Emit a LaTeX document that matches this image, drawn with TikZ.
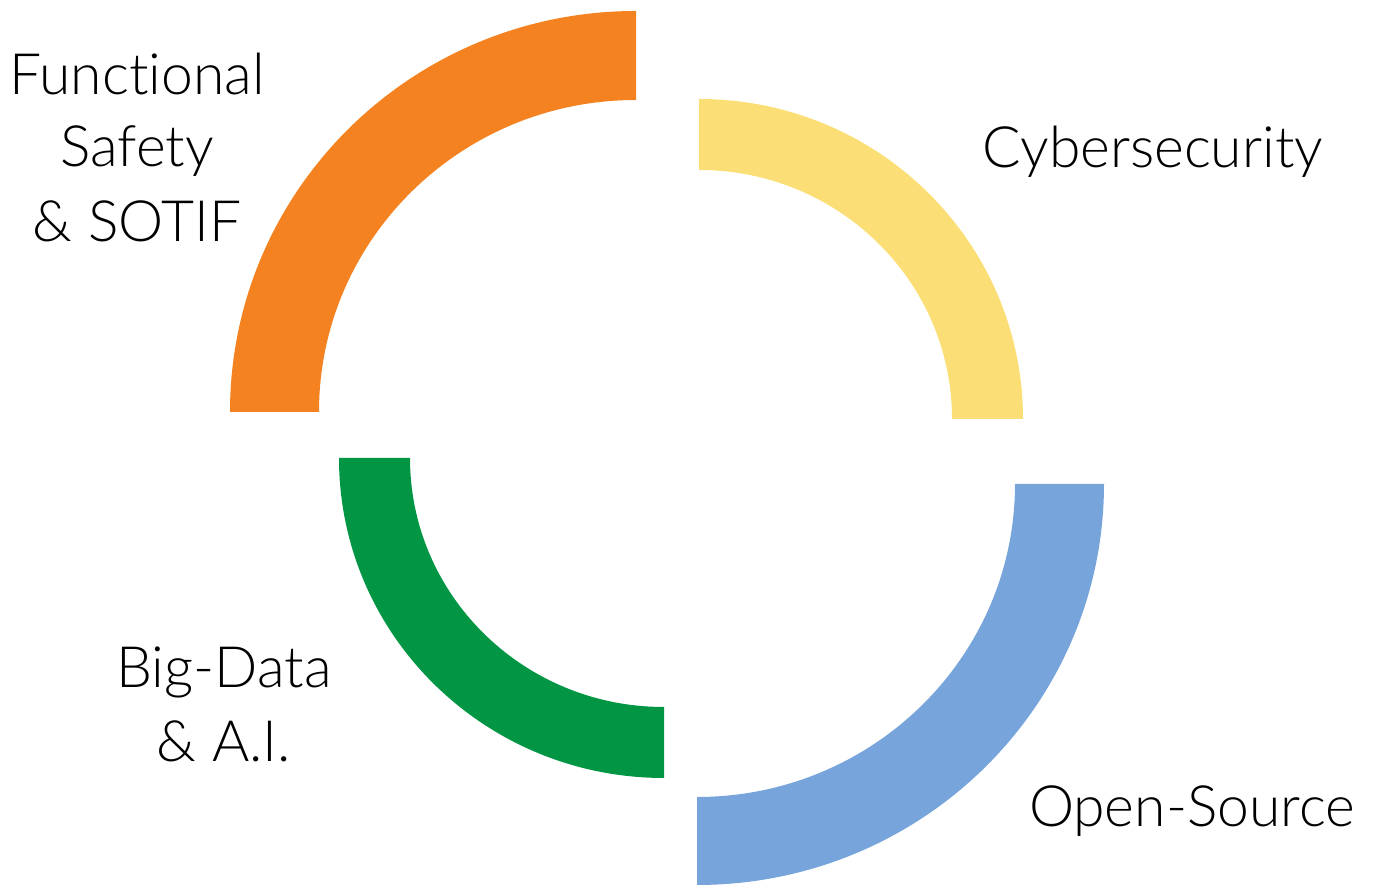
\documentclass[tikz,border=0pt]{standalone}
\usepackage{fontspec}
\setmainfont{Lato}[UprightFont=* Light, Ligatures=NoCommon]
\definecolor{cOrange}{RGB}{245,130,32}
\definecolor{cYellow}{RGB}{251,223,118}
\definecolor{cBlue}{RGB}{118,164,219}
\definecolor{cGreen}{RGB}{2,150,68}
\tikzset{
  lbl/.style={anchor=base, inner sep=0pt, font=\fontsize{57}{70}\selectfont, text=black},
}
\begin{document}
\begin{tikzpicture}[x=1pt,y=1pt]
\useasboundingbox (0,0) rectangle (1374,885);
% orange arc (top-left)
\fill[cOrange] (230,473) arc[start angle=180, end angle=90, x radius=406pt, y radius=401pt]
  -- (636,785) arc[start angle=90, end angle=180, x radius=317pt, y radius=312pt] -- cycle;
% yellow arc (top-right)
\fill[cYellow] (699,786) arc[start angle=90, end angle=0, x radius=324pt, y radius=320pt]
  -- (952,466) arc[start angle=0, end angle=90, x radius=253pt, y radius=249pt] -- cycle;
% blue arc (bottom-right)
\fill[cBlue] (1104,401) arc[start angle=0, end angle=-90, x radius=407pt, y radius=401pt]
  -- (697,88) arc[start angle=-90, end angle=0, x radius=318pt, y radius=313pt] -- cycle;
% green arc (bottom-left)
\fill[cGreen] (664,107) arc[start angle=-90, end angle=-180, x radius=325pt, y radius=320pt]
  -- (410,427) arc[start angle=180, end angle=270, x radius=254pt, y radius=249pt] -- cycle;
% labels
\node[lbl] (fs1) at (137,790) {Functional};
\node[lbl] (fs2) at (137,718) {Safety};
\node[lbl] (fs3) at (137,643) {\& SOTIF};
\node[lbl] (cyb) at (1153,717) {Cybersecurity};
\node[lbl] (bd1) at (224,197) {Big-Data};
\node[lbl] (bd2) at (224,123) {\& A.I.};
\node[lbl] (os) at (1192,58) {Open-Source};
\end{tikzpicture}
\end{document}
